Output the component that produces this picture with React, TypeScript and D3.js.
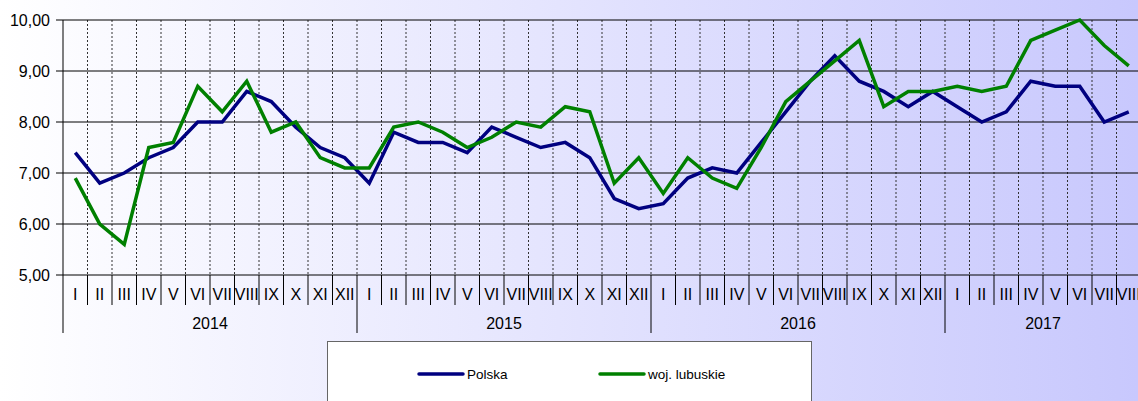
import { useEffect, useRef } from "react"
import * as d3 from "d3"

const years = ["2014", "2015", "2016", "2017"]
const months = ["I", "II", "III", "IV", "V", "VI", "VII", "VIII", "IX", "X", "XI", "XII"]
const monthCount = 44

const polska = [
  7.4, 6.8, 7.0, 7.3, 7.5, 8.0, 8.0, 8.6, 8.4, 7.9, 7.5, 7.3,
  6.8, 7.8, 7.6, 7.6, 7.4, 7.9, 7.7, 7.5, 7.6, 7.3, 6.5, 6.3,
  6.4, 6.9, 7.1, 7.0, 7.6, 8.2, 8.8, 9.3, 8.8, 8.6, 8.3, 8.6,
  8.3, 8.0, 8.2, 8.8, 8.7, 8.7, 8.0, 8.2,
]
const lubuskie = [
  6.9, 6.0, 5.6, 7.5, 7.6, 8.7, 8.2, 8.8, 7.8, 8.0, 7.3, 7.1,
  7.1, 7.9, 8.0, 7.8, 7.5, 7.7, 8.0, 7.9, 8.3, 8.2, 6.8, 7.3,
  6.6, 7.3, 6.9, 6.7, 7.5, 8.4, 8.8, 9.2, 9.6, 8.3, 8.6, 8.6,
  8.7, 8.6, 8.7, 9.6, 9.8, 10.0, 9.5, 9.1,
]
const yTicks = [5, 6, 7, 8, 9, 10]

const series = [
  { name: "Polska", values: polska, color: "#000080" },
  { name: "woj. lubuskie", values: lubuskie, color: "#008000" },
]

export default function App() {
  const svgRef = useRef<SVGSVGElement>(null)

  useEffect(() => {
    document.body.style.margin = "0"
    const width = 1138
    const height = 401
    const svg = d3.select(svgRef.current)
    svg.selectAll("*").remove()

    const left = 63
    const step = 24.5
    const x = d3.scaleLinear().domain([0, monthCount]).range([left, left + step * monthCount])
    const y = d3.scaleLinear().domain([5, 10]).range([275, 20])
    const font = "'Liberation Sans', Arial, sans-serif"

    const defs = svg.append("defs")
    const grad = defs.append("linearGradient").attr("id", "bg").attr("x1", 0).attr("x2", 1).attr("y1", 0).attr("y2", 0)
    grad.append("stop").attr("offset", "0%").attr("stop-color", "#ffffff")
    grad.append("stop").attr("offset", "100%").attr("stop-color", "#c8c8fd")
    svg.append("rect").attr("width", width).attr("height", height).attr("fill", "url(#bg)")

    // vertical dashed gridlines
    svg.append("g")
      .selectAll("line")
      .data(d3.range(1, monthCount + 1))
      .enter()
      .append("line")
      .attr("x1", (d) => x(d))
      .attr("x2", (d) => x(d))
      .attr("y1", y(10))
      .attr("y2", y(5))
      .attr("stroke", "#333")
      .attr("stroke-width", 1)
      .attr("stroke-dasharray", "2,2")

    // horizontal gridlines
    svg.append("g")
      .selectAll("line")
      .data(yTicks)
      .enter()
      .append("line")
      .attr("x1", left - 7)
      .attr("x2", width)
      .attr("y1", (d) => y(d))
      .attr("y2", (d) => y(d))
      .attr("stroke", "#000")
      .attr("stroke-width", 1)

    svg.append("g")
      .selectAll("text")
      .data(yTicks)
      .enter()
      .append("text")
      .attr("x", 50)
      .attr("y", (d) => y(d))
      .attr("dy", "0.35em")
      .attr("text-anchor", "end")
      .attr("font-family", font)
      .attr("font-size", 16)
      .attr("fill", "#000")
      .text((d) => d3.format(".2f")(d).replace(".", ","))

    // y axis
    svg.append("line")
      .attr("x1", left).attr("x2", left)
      .attr("y1", y(10)).attr("y2", 333)
      .attr("stroke", "#000").attr("stroke-width", 1)

    // month separators
    svg.append("g")
      .selectAll("line")
      .data(d3.range(1, monthCount + 1))
      .enter()
      .append("line")
      .attr("x1", (d) => x(d))
      .attr("x2", (d) => x(d))
      .attr("y1", y(5))
      .attr("y2", (d) => (d % 12 === 0 ? 333 : 305))
      .attr("stroke", "#000")
      .attr("stroke-width", 1)

    svg.append("g")
      .selectAll("text")
      .data(d3.range(monthCount))
      .enter()
      .append("text")
      .attr("x", (d) => x(d + 0.5))
      .attr("y", 294)
      .attr("dy", "0.35em")
      .attr("text-anchor", "middle")
      .attr("font-family", font)
      .attr("font-size", 16)
      .attr("fill", "#000")
      .text((d) => months[d % 12])

    svg.append("g")
      .selectAll("text")
      .data(years)
      .enter()
      .append("text")
      .attr("x", (d, i) => x((i * 12 + Math.min((i + 1) * 12, monthCount)) / 2))
      .attr("y", 323)
      .attr("dy", "0.35em")
      .attr("text-anchor", "middle")
      .attr("font-family", font)
      .attr("font-size", 16)
      .attr("fill", "#000")
      .text((d) => d)

    const line = d3.line<number>()
      .x((d, i) => x(i + 0.5))
      .y((d) => y(d))

    svg.append("g")
      .selectAll("path")
      .data(series)
      .enter()
      .append("path")
      .attr("d", (d) => line(d.values))
      .attr("fill", "none")
      .attr("stroke", (d) => d.color)
      .attr("stroke-width", 3.5)
      .attr("stroke-linejoin", "miter")

    // legend
    const legend = svg.append("g")
    legend.append("rect")
      .attr("x", 327.5).attr("y", 341.5)
      .attr("width", 484).attr("height", 80)
      .attr("fill", "#fff").attr("stroke", "#666").attr("stroke-width", 1)

    const items = legend.selectAll("g.item")
      .data(series)
      .enter()
      .append("g")
      .attr("class", "item")
      .attr("transform", (d, i) => `translate(${419 + i * 181},374)`)
    items.append("line")
      .attr("x1", 0).attr("x2", 44)
      .attr("stroke", (d) => d.color)
      .attr("stroke-width", 3.5)
      .attr("stroke-linecap", "round")
    items.append("text")
      .attr("x", 48)
      .attr("dy", "0.35em")
      .attr("font-family", font)
      .attr("font-size", 13.5)
      .attr("fill", "#000")
      .text((d) => d.name)
  }, [])

  return <svg ref={svgRef} width={1138} height={401} style={{ display: "block" }} />
}
